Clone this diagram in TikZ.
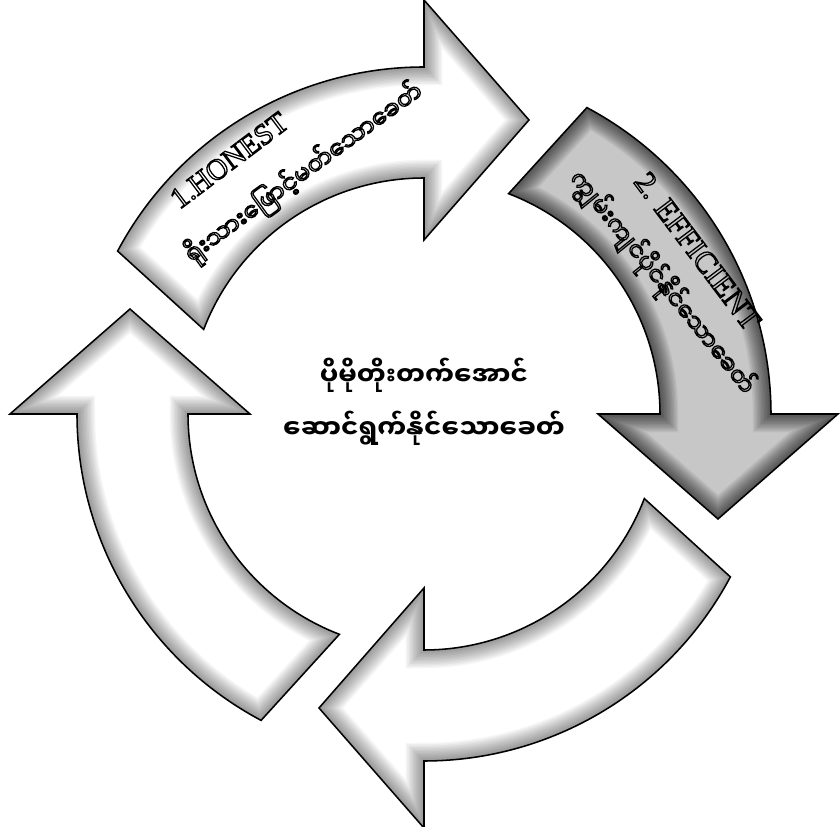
\documentclass[tikz,border=0pt]{standalone}
\usepackage{fontspec}
\setmainfont{Liberation Serif}
\newfontfamily\mmfont[Script=Myanmar]{Noto Sans Myanmar UI}
\usetikzlibrary{calc}

\newcommand\arrowpath[1]{%
  (#1+69:5.9) arc[start angle=#1+69, end angle=#1, radius=5.9]
  -- (#1:4.35) -- ($(#1:7.35)+(#1-90:2.625)$) -- (#1:10.35)
  -- (#1:8.675) arc[start angle=#1, end angle=#1+62, radius=8.675] -- cycle}

\newcommand\ringarrow[3]{%
  \fill[#2] \arrowpath{#1};
  \begin{scope}
    \clip \arrowpath{#1};
    \foreach \w in {2,4,...,26}
      \draw[line width=\w pt, black, opacity=#3] \arrowpath{#1};
  \end{scope}
  \draw[line width=1.1pt, line join=miter] \arrowpath{#1};
}

\newcommand\hollow[1]{\special{pdf:literal direct 1 Tr 0.9 w 0 G}#1\special{pdf:literal direct 0 Tr}}

\tikzset{
  bandtext/.style={inner sep=0pt},
  hubtext/.style={align=center, font=\mmfont\bfseries\fontsize{18.5}{38}\selectfont}
}

\begin{document}
\begin{tikzpicture}
  \useasboundingbox (-10.6,-10.325) rectangle (10.4,10.35);

  \ringarrow{90}{white}{0.035}
  \ringarrow{0}{black!22}{0.06}
  \ringarrow{270}{white}{0.035}
  \ringarrow{180}{white}{0.035}

  \node[bandtext, rotate=37, font=\fontsize{21}{24}\selectfont] (honest) at (-4.87,6.34)
    {\hollow{1.HONEST}};
  \node[bandtext, rotate=36, font=\mmfont\fontsize{17}{20}\selectfont] (honestmm) at (-3.0,6.02)
    {\hollow{ရိုးသားဖြောင့်မတ်သောခေတ်}};

  \node[bandtext, rotate=-53, font=\fontsize{22}{24}\selectfont] (efficient) at (6.84,4.07)
    {\hollow{2. EFFICIENT}};
  \node[bandtext, rotate=-51, font=\mmfont\fontsize{17}{20}\selectfont] (efficientmm) at (5.95,3.28)
    {\hollow{ကျွမ်းကျင်ပိုင်နိုင်သောခေတ်}};

  \node[hubtext] (hub) at (0,0.3)
    {ပိုမိုတိုးတက်အောင်\\ဆောင်ရွက်နိုင်သောခေတ်};
\end{tikzpicture}
\end{document}
